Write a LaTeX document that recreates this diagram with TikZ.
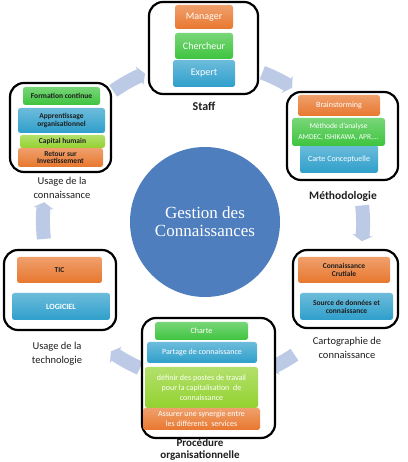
\documentclass[tikz,border=0pt]{standalone}
\usepackage{fontspec}
\setmainfont{Carlito}
\newfontfamily\hubfont{Liberation Serif}
\usetikzlibrary{arrows.meta}
\definecolor{boxorange}{HTML}{E8772E}
\definecolor{boxgreen}{HTML}{3EC43E}
\definecolor{boxblue}{HTML}{2E9FCB}
\definecolor{boxlime}{HTML}{92D22E}
\definecolor{ringblue}{HTML}{BCCAE6}
\definecolor{hubblue}{HTML}{4E7EBD}
\definecolor{darktext}{HTML}{1E1E1E}

\begin{document}
\begin{tikzpicture}[x=1pt,y=1pt,
  frame/.style={draw=black, line width=2.2pt, rounded corners=14pt, fill=white},
  item/.style={rounded corners=2.5pt, align=center, inner sep=1pt, text=white,
    font=\fontsize{8}{8.5}\selectfont},
  orangeitem/.style={item, top color=boxorange!70!white, bottom color=boxorange},
  greenitem/.style={item, top color=boxgreen!70!white, bottom color=boxgreen},
  blueitem/.style={item, top color=boxblue!70!white, bottom color=boxblue},
  limeitem/.style={item, top color=boxlime!70!white, bottom color=boxlime},
  darkitem/.style={text=darktext, font=\bfseries\fontsize{7.5}{8}\selectfont},
  ring/.style={draw=ringblue, line width=14pt, -{Triangle[width=20pt,length=6pt]}},
  caption/.style={align=center, text=darktext, font=\fontsize{10.5}{14}\selectfont}
]
\useasboundingbox (0,0) rectangle (407,462);

% centre
\node[circle, fill=hubblue, minimum size=150pt, text=white, align=center,
  font=\hubfont\fontsize{17}{18}\selectfont] (hub) at (205,240) {Gestion des\\Connaissances};

% ring arrows, clockwise
\draw[ring] ([shift={(125:160)}]hub.center) arc[start angle=125, end angle=112, radius=160];
\draw[ring] ([shift={(69:160)}]hub.center) arc[start angle=69, end angle=57, radius=160];
\draw[ring] ([shift={(6:158)}]hub.center) arc[start angle=6, end angle=-7, radius=158];
\draw[ring] ([shift={(-56:160)}]hub.center) arc[start angle=-56, end angle=-66, radius=160];
\draw[ring] ([shift={(-114:160)}]hub.center) arc[start angle=-114, end angle=-126, radius=160];
\draw[ring] ([shift={(186:162)}]hub.center) arc[start angle=186, end angle=173, radius=162];

% Staff
\draw[frame] (149,368) rectangle (258,460);
\node[orangeitem, minimum width=58pt, minimum height=24pt, font=\fontsize{10}{11}\selectfont] (manager) at (204,445) {Manager};
\node[greenitem, minimum width=58pt, minimum height=26pt, font=\fontsize{10}{11}\selectfont] (chercheur) at (204,416) {Chercheur};
\node[blueitem, minimum width=62pt, minimum height=27pt, font=\fontsize{10}{11}\selectfont] (expert) at (204,388.5) {Expert};
\node[caption, font=\bfseries\fontsize{12}{14}\selectfont] (staff) at (204,356) {Staff};

% Methodologie
\draw[frame] (287,282) rectangle (398,370);
\node[orangeitem, minimum width=82pt, minimum height=21pt] (brain) at (339,356.5) {Brainstorming};
\node[blueitem, minimum width=78pt, minimum height=28pt, text depth=-6pt] (carte) at (339,303) {Carte Conceptuelle};
\node[greenitem, minimum width=93pt, minimum height=28pt, font=\fontsize{7.5}{11}\selectfont] (analyse) at (338.5,330) {M\'ethode d'analyse\\AMDEC, ISHIKAWA, APR,...};
\node[caption, font=\bfseries\fontsize{11.5}{14}\selectfont] (metho) at (343,266) {M\'ethodologie};

% Usage de la connaissance
\draw[frame] (10,290) rectangle (111,379);
\node[greenitem, darkitem, minimum width=77pt, minimum height=18pt] (formation) at (61.5,366) {Formation continue};
\node[blueitem, darkitem, minimum width=87pt, minimum height=25pt] (apprent) at (61.5,341.5) {Apprentissage\\organisationnel};
\node[limeitem, darkitem, minimum width=85pt, minimum height=13pt] (capital) at (62.5,320.5) {Capital humain};
\node[orangeitem, darkitem, minimum width=85pt, minimum height=19pt, font=\bfseries\fontsize{7.5}{7.5}\selectfont] (retour) at (60.5,304.5) {Retour sur\\Investissement};
\node[caption] (usageconn) at (62,274.5) {Usage de la\\connaissance};

% Usage de la technologie
\draw[frame] (4,132) rectangle (116,212);
\node[orangeitem, darkitem, minimum width=85pt, minimum height=26pt] (tic) at (59.5,192) {TIC};
\node[blueitem, minimum width=98pt, minimum height=27pt, font=\bfseries\fontsize{8}{9}\selectfont] (logiciel) at (61,155.5) {LOGICIEL};
\node[caption] (usagetech) at (57,108.5) {Usage de la\\technologie};

% Cartographie
\draw[frame] (293,134) rectangle (398,212);
\node[orangeitem, darkitem, minimum width=92pt, minimum height=26pt] (crutiale) at (344,192) {Connaissance\\Crutiale};
\node[blueitem, darkitem, minimum width=93pt, minimum height=27pt] (source) at (346.5,155.5) {Source de donn\'ees et\\connaissance};
\node[caption] (carto) at (347,114.5) {Cartographie de\\connaissance};

% Procedure organisationnelle
\draw[frame] (142,24) rectangle (275,144);
\node[greenitem, minimum width=93pt, minimum height=18pt] (charte) at (201.5,131) {Charte};
\node[blueitem, minimum width=110pt, minimum height=21pt] (partage) at (202,109.5) {Partage de connaissance};
\node[limeitem, minimum width=113pt, minimum height=41pt, font=\fontsize{8}{10}\selectfont] (definir) at (201.5,74.5) {d\'efinir des postes de travail\\pour la capitalisation\ \ de\\connaissance};
\node[orangeitem, minimum width=117pt, minimum height=22pt, font=\fontsize{8}{9.5}\selectfont] (assurer) at (201.5,43) {Assurer une synergie entre\\les diff\'erents\ \ services};
\node[caption, font=\bfseries\fontsize{11}{12.5}\selectfont] (procedure) at (200,12.5) {Proc\'edure\\organisationnelle};
\end{tikzpicture}
\end{document}
